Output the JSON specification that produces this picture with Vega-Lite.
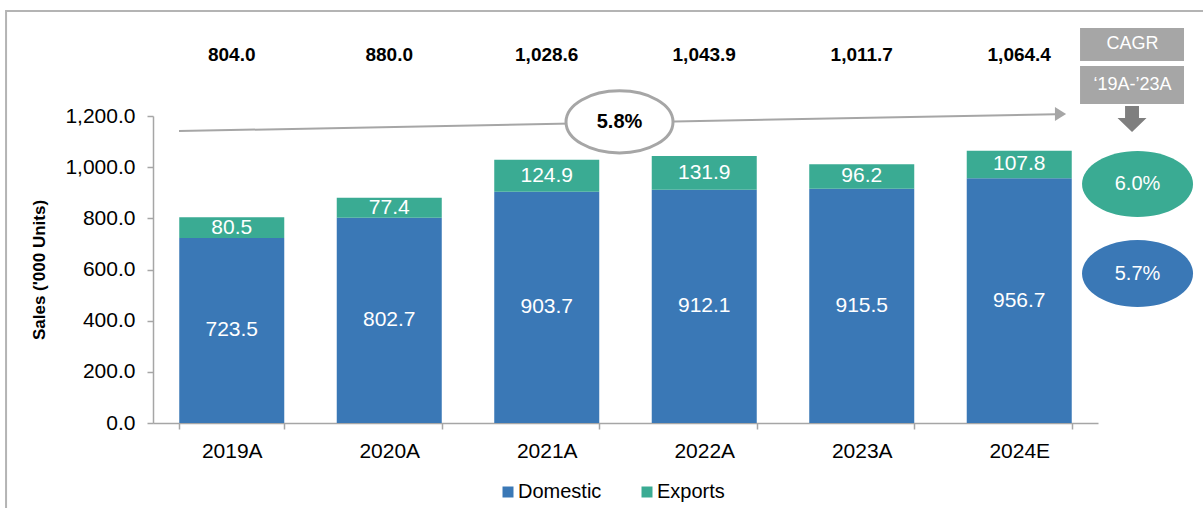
{
  "$schema": "https://vega.github.io/schema/vega-lite/v6.json",
  "width": 945,
  "height": 307,
  "autosize": {"type": "none"},
  "padding": {"left": 153, "top": 116, "right": 105, "bottom": 85},
  "background": "white",
  "config": {"view": {"stroke": null}, "font": "Liberation Sans"},
  "datasets": {
    "sales": [
      {"year": "2019A", "series": "Domestic", "value": 723.5},
      {"year": "2019A", "series": "Exports", "value": 80.5},
      {"year": "2020A", "series": "Domestic", "value": 802.7},
      {"year": "2020A", "series": "Exports", "value": 77.4},
      {"year": "2021A", "series": "Domestic", "value": 903.7},
      {"year": "2021A", "series": "Exports", "value": 124.9},
      {"year": "2022A", "series": "Domestic", "value": 912.1},
      {"year": "2022A", "series": "Exports", "value": 131.9},
      {"year": "2023A", "series": "Domestic", "value": 915.5},
      {"year": "2023A", "series": "Exports", "value": 96.2},
      {"year": "2024E", "series": "Domestic", "value": 956.7},
      {"year": "2024E", "series": "Exports", "value": 107.8}
    ],
    "totals": [
      {"year": "2019A", "total": 804.0},
      {"year": "2020A", "total": 880.0},
      {"year": "2021A", "total": 1028.6},
      {"year": "2022A", "total": 1043.9},
      {"year": "2023A", "total": 1011.7},
      {"year": "2024E", "total": 1064.4}
    ]
  },
  "layer": [
    {
      "layer": [
        {
          "data": {"name": "sales"},
          "mark": {"type": "bar"},
          "encoding": {
            "x": {
              "field": "year", "type": "nominal", "sort": null,
              "scale": {"paddingInner": 0.3333, "paddingOuter": 0.1667},
              "axis": {"title": null, "labelAngle": 0, "labelFontSize": 21, "labelColor": "black", "labelPadding": 11, "tickBand": "extent", "tickSize": 6, "tickColor": "#a6a6a6", "domainColor": "#a6a6a6", "domainWidth": 1.5, "tickWidth": 1.5}
            },
            "y": {
              "field": "value", "type": "quantitative", "stack": "zero",
              "scale": {"domain": [0, 1200], "nice": false},
              "axis": {"title": "Sales ('000 Units)", "titleFontSize": 17, "titleFontWeight": "bold", "titleColor": "black", "titlePadding": 16, "format": ",.1f", "values": [0, 200, 400, 600, 800, 1000, 1200], "labelFontSize": 21, "labelColor": "black", "labelPadding": 12, "tickSize": 6, "tickColor": "#a6a6a6", "tickWidth": 1.5, "domainColor": "#a6a6a6", "domainWidth": 1.5, "grid": false}
            },
            "color": {
              "field": "series", "type": "nominal",
              "scale": {"domain": ["Domestic", "Exports"], "range": ["#3a78b6", "#3aab93"]},
              "legend": {"orient": "none", "legendX": 345, "legendY": 366, "direction": "horizontal", "title": null, "symbolType": "square", "symbolSize": 121, "symbolStrokeWidth": 0, "labelFontSize": 20, "labelColor": "black", "columnPadding": 35, "labelOffset": 0, "padding": 0}
            },
            "order": {"field": "series", "sort": "ascending"}
          }
        },
        {
          "data": {"name": "sales"},
          "mark": {"type": "text", "color": "white", "fontSize": 21, "baseline": "middle"},
          "encoding": {
            "x": {"field": "year", "type": "nominal", "sort": null},
            "y": {"field": "value", "type": "quantitative", "stack": "zero", "bandPosition": 0.5, "scale": {"domain": [0, 1200], "nice": false}},
            "detail": {"field": "series"},
            "order": {"field": "series", "sort": "ascending"},
            "text": {"field": "value", "format": ".1f"}
          }
        },
        {
          "data": {"name": "totals"},
          "mark": {"type": "text", "color": "black", "fontSize": 19, "fontWeight": "bold", "baseline": "middle"},
          "encoding": {
            "x": {"field": "year", "type": "nominal", "sort": null},
            "y": {"datum": 1440, "type": "quantitative", "scale": {"domain": [0, 1200], "nice": false}},
            "text": {"field": "total", "format": ",.1f"}
          }
        }
      ]
    },
    {
      "data": {"values": [{"label": "5.8%", "cagr": "CAGR", "period": "\u201819A-\u201923A", "exp": "6.0%", "dom": "5.7%"}]},
      "layer": [
        {
          "mark": {"type": "rect", "fillOpacity": 0, "stroke": "#b4b4b4", "strokeWidth": 2},
          "encoding": {
            "x": {"datum": -0.933, "type": "quantitative", "scale": {"domain": [0, 6], "nice": false, "zero": false}, "axis": null},
            "x2": {"datum": 7},
            "y": {"datum": 1610, "type": "quantitative", "scale": {"domain": [0, 1200], "nice": false}, "axis": null},
            "y2": {"datum": -400}
          }
        },
        {
          "mark": {"type": "rule", "color": "#a6a6a6", "strokeWidth": 2},
          "encoding": {
            "x": {"datum": 0.165, "type": "quantitative", "scale": {"domain": [0, 6], "nice": false, "zero": false}, "axis": null},
            "x2": {"datum": 5.733},
            "y": {"datum": 1141, "type": "quantitative", "scale": {"domain": [0, 1200], "nice": false}, "axis": null},
            "y2": {"datum": 1207}
          }
        },
        {
          "mark": {"type": "point", "shape": "M-0.8,-1L0.8,0L-0.8,1Z", "size": 196, "filled": true, "color": "#a6a6a6", "opacity": 1},
          "encoding": {
            "x": {"datum": 5.762, "type": "quantitative", "scale": {"domain": [0, 6], "nice": false, "zero": false}, "axis": null},
            "y": {"datum": 1208, "type": "quantitative", "scale": {"domain": [0, 1200], "nice": false}, "axis": null}
          }
        },
        {
          "mark": {"type": "point", "shape": "M-1,0C-1,-0.3203,-0.5523,-0.58,0,-0.58C0.5523,-0.58,1,-0.3203,1,0C1,0.3203,0.5523,0.58,0,0.58C-0.5523,0.58,-1,0.3203,-1,0Z", "size": 11449, "filled": true, "fill": "white", "stroke": "#a6a6a6", "strokeWidth": 3, "opacity": 1, "fillOpacity": 1, "strokeOpacity": 1},
          "encoding": {
            "x": {"datum": 2.962, "type": "quantitative", "scale": {"domain": [0, 6], "nice": false, "zero": false}, "axis": null},
            "y": {"datum": 1177, "type": "quantitative", "scale": {"domain": [0, 1200], "nice": false}, "axis": null}
          }
        },
        {
          "mark": {"type": "text", "color": "black", "fontSize": 20, "fontWeight": "bold", "baseline": "middle"},
          "encoding": {
            "x": {"datum": 2.962, "type": "quantitative", "scale": {"domain": [0, 6], "nice": false, "zero": false}, "axis": null},
            "y": {"datum": 1177, "type": "quantitative", "scale": {"domain": [0, 1200], "nice": false}, "axis": null},
            "text": {"field": "label"}
          }
        },
        {
          "mark": {"type": "rect", "color": "#a6a6a6"},
          "encoding": {
            "x": {"datum": 5.886, "type": "quantitative", "scale": {"domain": [0, 6], "nice": false, "zero": false}, "axis": null},
            "x2": {"datum": 6.546},
            "y": {"datum": 1544, "type": "quantitative", "scale": {"domain": [0, 1200], "nice": false}, "axis": null},
            "y2": {"datum": 1415}
          }
        },
        {
          "mark": {"type": "rect", "color": "#a6a6a6"},
          "encoding": {
            "x": {"datum": 5.886, "type": "quantitative", "scale": {"domain": [0, 6], "nice": false, "zero": false}, "axis": null},
            "x2": {"datum": 6.546},
            "y": {"datum": 1395, "type": "quantitative", "scale": {"domain": [0, 1200], "nice": false}, "axis": null},
            "y2": {"datum": 1247}
          }
        },
        {
          "mark": {"type": "text", "color": "white", "fontSize": 18, "baseline": "middle"},
          "encoding": {
            "x": {"datum": 6.219, "type": "quantitative", "scale": {"domain": [0, 6], "nice": false, "zero": false}, "axis": null},
            "y": {"datum": 1480, "type": "quantitative", "scale": {"domain": [0, 1200], "nice": false}, "axis": null},
            "text": {"field": "cagr"}
          }
        },
        {
          "mark": {"type": "text", "color": "white", "fontSize": 18, "baseline": "middle"},
          "encoding": {
            "x": {"datum": 6.219, "type": "quantitative", "scale": {"domain": [0, 6], "nice": false, "zero": false}, "axis": null},
            "y": {"datum": 1321, "type": "quantitative", "scale": {"domain": [0, 1200], "nice": false}, "axis": null},
            "text": {"field": "period"}
          }
        },
        {
          "mark": {"type": "point", "shape": "M-0.48,-0.9L0.48,-0.9L0.48,-0.07L1,-0.07L0,0.9L-1,-0.07L-0.48,-0.07Z", "size": 841, "filled": true, "color": "#7f7f7f", "opacity": 1},
          "encoding": {
            "x": {"datum": 6.216, "type": "quantitative", "scale": {"domain": [0, 6], "nice": false, "zero": false}, "axis": null},
            "y": {"datum": 1188, "type": "quantitative", "scale": {"domain": [0, 1200], "nice": false}, "axis": null}
          }
        },
        {
          "mark": {"type": "point", "shape": "M-1,0C-1,-0.3286,-0.5523,-0.595,0,-0.595C0.5523,-0.595,1,-0.3286,1,0C1,0.3286,0.5523,0.595,0,0.595C-0.5523,0.595,-1,0.3286,-1,0Z", "size": 12321, "filled": true, "color": "#3aab93", "opacity": 1},
          "encoding": {
            "x": {"datum": 6.251, "type": "quantitative", "scale": {"domain": [0, 6], "nice": false, "zero": false}, "axis": null},
            "y": {"datum": 934, "type": "quantitative", "scale": {"domain": [0, 1200], "nice": false}, "axis": null}
          }
        },
        {
          "mark": {"type": "text", "color": "white", "fontSize": 20, "baseline": "middle"},
          "encoding": {
            "x": {"datum": 6.251, "type": "quantitative", "scale": {"domain": [0, 6], "nice": false, "zero": false}, "axis": null},
            "y": {"datum": 934, "type": "quantitative", "scale": {"domain": [0, 1200], "nice": false}, "axis": null},
            "text": {"field": "exp"}
          }
        },
        {
          "mark": {"type": "point", "shape": "M-1,0C-1,-0.3336,-0.5523,-0.604,0,-0.604C0.5523,-0.604,1,-0.3336,1,0C1,0.3336,0.5523,0.604,0,0.604C-0.5523,0.604,-1,0.3336,-1,0Z", "size": 12321, "filled": true, "color": "#3a78b6", "opacity": 1},
          "encoding": {
            "x": {"datum": 6.251, "type": "quantitative", "scale": {"domain": [0, 6], "nice": false, "zero": false}, "axis": null},
            "y": {"datum": 584, "type": "quantitative", "scale": {"domain": [0, 1200], "nice": false}, "axis": null}
          }
        },
        {
          "mark": {"type": "text", "color": "white", "fontSize": 20, "baseline": "middle"},
          "encoding": {
            "x": {"datum": 6.251, "type": "quantitative", "scale": {"domain": [0, 6], "nice": false, "zero": false}, "axis": null},
            "y": {"datum": 584, "type": "quantitative", "scale": {"domain": [0, 1200], "nice": false}, "axis": null},
            "text": {"field": "dom"}
          }
        }
      ]
    }
  ],
  "resolve": {"scale": {"x": "independent"}, "axis": {"x": "independent", "y": "independent"}}
}
